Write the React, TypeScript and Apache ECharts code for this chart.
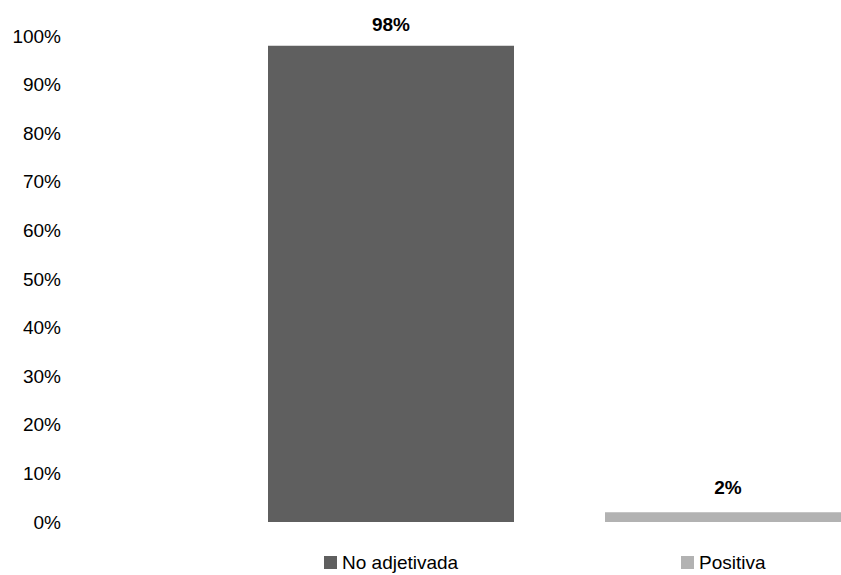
import React, { useEffect, useRef } from "react";
import * as echarts from "echarts";

const categories = ["No adjetivada", "Positiva"];
const values = [98, 2];
const colors = ["#5f5f5f", "#b2b2b2"];
const yTicks = [0, 10, 20, 30, 40, 50, 60, 70, 80, 90, 100];

const FONT = "'Liberation Sans', Arial, sans-serif";

export default function App() {
  const ref = useRef<HTMLDivElement>(null);
  useEffect(() => {
    if (!ref.current) return;
    const chart = echarts.init(ref.current, undefined, { renderer: "svg" });
    const labelDist = [12, 15];
    const legendLeft = [324, 681];
    chart.setOption({
      animation: false,
      backgroundColor: "#ffffff",
      textStyle: { fontFamily: FONT },
      grid: { left: 391, right: 113, top: 36, bottom: 53, containLabel: false },
      legend: categories.map((c, i) => ({
        data: [c],
        left: legendLeft[i],
        top: 553,
        padding: 0,
        icon: "rect",
        itemWidth: 13,
        itemHeight: 13,
        itemGap: 5,
        textStyle: { fontFamily: FONT, fontSize: 19, color: "#000000" },
        selectedMode: false,
      })),
      xAxis: {
        type: "category",
        data: categories,
        boundaryGap: false,
        axisLine: { show: false },
        axisTick: { show: false },
        axisLabel: { show: false },
        splitLine: { show: false },
      },
      yAxis: {
        type: "value",
        min: yTicks[0],
        max: yTicks[yTicks.length - 1],
        interval: 10,
        axisLine: { show: false },
        axisTick: { show: false },
        splitLine: { show: false },
        axisLabel: {
          formatter: "{value}%",
          margin: 330,
          fontFamily: FONT,
          fontSize: 19,
          color: "#000000",
        },
      },
      series: categories.map((c, i) => ({
        name: c,
        type: "bar",
        barWidth: 246,
        barGap: "-100%",
        clip: false,
        itemStyle: { color: colors[i] },
        data: categories.map((_, j) => (j === i ? values[i] : "-")),
        label: {
          show: true,
          position: "top",
          distance: labelDist[i],
          formatter: "{c}%",
          fontFamily: FONT,
          fontSize: 19,
          fontWeight: "bold",
          color: "#000000",
        },
      })),
    });
    return () => chart.dispose();
  }, []);
  return (
    <div
      ref={ref}
      style={{ position: "fixed", left: 0, top: 0, width: 841, height: 575, background: "#fff" }}
    />
  );
}
